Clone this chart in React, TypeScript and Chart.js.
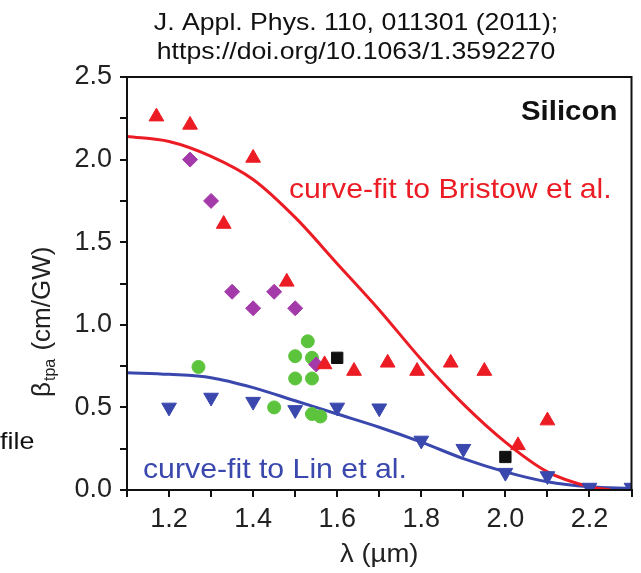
import React, { useEffect, useRef } from "react";
import { Chart, registerables } from "chart.js";

Chart.register(...registerables);

// Curve fits
const bristowFitX = [1.1, 1.2, 1.3, 1.4, 1.5, 1.6, 1.7, 1.8, 1.9, 2.0, 2.1, 2.2, 2.25];
const bristowFitY = [2.14, 2.11, 2.02, 1.88, 1.65, 1.37, 1.09, 0.79, 0.52, 0.29, 0.11, 0.02, 0.0];
const linFitX = [1.1, 1.2, 1.3, 1.4, 1.5, 1.6, 1.7, 1.8, 1.9, 2.0, 2.1, 2.2, 2.3];
const linFitY = [0.71, 0.70, 0.68, 0.62, 0.54, 0.46, 0.38, 0.29, 0.19, 0.11, 0.05, 0.02, 0.01];

// Measured points
const redTriX = [1.17, 1.25, 1.40, 1.33, 1.48, 1.57, 1.64, 1.72, 1.79, 1.87, 1.95, 2.03, 2.10];
const redTriY = [2.26, 2.21, 2.01, 1.61, 1.26, 0.76, 0.72, 0.77, 0.72, 0.77, 0.72, 0.27, 0.42];
const purpleX = [1.25, 1.30, 1.35, 1.40, 1.45, 1.50, 1.55];
const purpleY = [2.0, 1.75, 1.20, 1.10, 1.20, 1.10, 0.76];
const greenX = [1.27, 1.45, 1.50, 1.50, 1.53, 1.54, 1.54, 1.54, 1.56];
const greenY = [0.745, 0.50, 0.81, 0.675, 0.90, 0.80, 0.675, 0.46, 0.445];
const blueTriX = [1.20, 1.30, 1.40, 1.50, 1.60, 1.70, 1.80, 1.90, 2.00, 2.10, 2.20, 2.30];
const blueTriY = [0.50, 0.56, 0.535, 0.485, 0.50, 0.495, 0.30, 0.25, 0.105, 0.085, 0.015, 0.015];
const blackX = [1.60, 2.00];
const blackY = [0.80, 0.20];

const titleLines = ["J. Appl. Phys. 110, 011301 (2011);", "https://doi.org/10.1063/1.3592270"];
const xTitle = "λ (µm)";
const yTitleMain = "β";
const yTitleSub = "tpa";
const yTitleRest = " (cm/GW)";
const sampleLabel = "Silicon";
const bristowLabel = "curve-fit to Bristow et al.";
const linLabel = "curve-fit to Lin et al.";
const stray = "file";

const RED = "#ec1c24";
const BLUE = "#3a48ae";
const PURPLE = "#a43aaa";
const GREEN = "#5cc43c";
const FONT = "'Liberation Sans', Arial, sans-serif";

const zip = (xs: number[], ys: number[]) => xs.map((x, i) => ({ x, y: ys[i] }));

function txt(ctx: CanvasRenderingContext2D, s: string, x: number, y: number, font: string, color: string, align: CanvasTextAlign, sx = 1) {
  ctx.save();
  ctx.translate(x, y);
  ctx.scale(sx, 1);
  ctx.font = font;
  ctx.fillStyle = color;
  ctx.textAlign = align;
  ctx.textBaseline = "alphabetic";
  ctx.fillText(s, 0, 0);
  ctx.restore();
}

const annotations = {
  id: "annotations",
  afterDraw(chart: any) {
    const ctx = chart.ctx as CanvasRenderingContext2D;
    const a = chart.chartArea;
    ctx.save();
    // frame
    ctx.strokeStyle = "#111";
    ctx.lineWidth = 2;
    ctx.strokeRect(a.left, a.top, a.right - a.left, a.bottom - a.top);
    // title
    txt(ctx, titleLines[0], 356, 30, `24px ${FONT}`, "#111", "center", 1.11);
    txt(ctx, titleLines[1], 356, 59, `24px ${FONT}`, "#111", "center", 1.11);
    // x title
    txt(ctx, xTitle, (a.left + a.right) / 2, 562, `25px ${FONT}`, "#222", "center", 1.1);
    // stray text
    txt(ctx, stray, 0, 449, `24px ${FONT}`, "#111", "left", 1.12);
    // sample + fits labels
    txt(ctx, sampleLabel, 521, 120, `bold 28px ${FONT}`, "#111", "left", 1.05);
    txt(ctx, bristowLabel, 289, 198, `28px ${FONT}`, RED, "left", 1.08);
    txt(ctx, linLabel, 143, 478, `28px ${FONT}`, BLUE, "left", 1.08);
    // y title with subscript (rotated)
    ctx.save();
    ctx.translate(50, 397);
    ctx.rotate(-Math.PI / 2);
    ctx.fillStyle = "#222";
    ctx.textAlign = "left";
    ctx.textBaseline = "alphabetic";
    ctx.font = `26px ${FONT}`;
    ctx.fillText(yTitleMain, 0, 0);
    const w1 = ctx.measureText(yTitleMain).width;
    ctx.font = `16px ${FONT}`;
    ctx.fillText(yTitleSub, w1 + 1, 5);
    const w2 = ctx.measureText(yTitleSub).width;
    ctx.font = `26px ${FONT}`;
    ctx.fillText(yTitleRest, w1 + w2 + 2, 0);
    ctx.restore();
    ctx.restore();
  },
};

export default function App() {
  const ref = useRef<HTMLCanvasElement>(null);
  useEffect(() => {
    if (!ref.current) return;
    const markerBase = { showLine: false, order: 0, pointBorderWidth: 1 };
    const chart = new Chart(ref.current, {
      type: "scatter",
      data: {
        datasets: [
          {
            label: "Bristow fit",
            data: zip(bristowFitX, bristowFitY),
            showLine: true,
            borderColor: RED,
            borderWidth: 3,
            pointRadius: 0,
            cubicInterpolationMode: "monotone",
            order: 10,
          } as any,
          {
            label: "Lin fit",
            data: zip(linFitX, linFitY),
            showLine: true,
            borderColor: BLUE,
            borderWidth: 3,
            pointRadius: 0,
            cubicInterpolationMode: "monotone",
            order: 10,
          } as any,
          {
            ...markerBase,
            label: "red",
            data: zip(redTriX, redTriY),
            pointStyle: "triangle",
            pointRadius: 8.5,
            backgroundColor: RED,
            borderColor: RED,
          },
          {
            ...markerBase,
            label: "purple",
            data: zip(purpleX, purpleY),
            pointStyle: "rectRot",
            pointRadius: 7.5,
            backgroundColor: PURPLE,
            borderColor: PURPLE,
          },
          {
            ...markerBase,
            label: "green",
            data: zip(greenX, greenY),
            pointStyle: "circle",
            pointRadius: 6.5,
            backgroundColor: GREEN,
            borderColor: GREEN,
          },
          {
            ...markerBase,
            label: "blue",
            data: zip(blueTriX, blueTriY),
            pointStyle: "triangle",
            rotation: 180,
            pointRotation: 180,
            pointRadius: 8.5,
            backgroundColor: BLUE,
            borderColor: BLUE,
          } as any,
          {
            ...markerBase,
            label: "black",
            data: zip(blackX, blackY),
            pointStyle: "rect",
            pointRadius: 8,
            backgroundColor: "#111",
            borderColor: "#111",
          },
        ],
      },
      options: {
        animation: false,
        responsive: false,
        layout: { padding: { top: 77, right: 3, left: 0, bottom: 0 } },
        plugins: { legend: { display: false }, tooltip: { enabled: false }, title: { display: false } },
        scales: {
          x: {
            type: "linear",
            min: 1.1,
            max: 2.3,
            afterFit: (s: any) => { s.height = 83; s.paddingLeft = 0; s.paddingRight = 0; },
            border: { display: true, color: "#111", width: 2 },
            grid: { display: true, drawOnChartArea: false, drawTicks: true, tickLength: 7, color: "#111", lineWidth: 2 },
            ticks: {
              stepSize: 0.1,
              autoSkip: false,
              maxRotation: 0,
              padding: 6,
              color: "#222",
              font: { size: 27, family: FONT },
              callback: (v: any) => (Math.round(Number(v) * 10) % 2 === 0 ? Number(v).toFixed(1) : ""),
            },
          },
          y: {
            type: "linear",
            min: 0,
            max: 2.5,
            afterFit: (s: any) => { s.width = 127; s.paddingTop = 0; s.paddingBottom = 0; },
            border: { display: true, color: "#111", width: 2 },
            grid: { display: true, drawOnChartArea: false, drawTicks: true, tickLength: 7, color: "#111", lineWidth: 2 },
            ticks: {
              stepSize: 0.25,
              autoSkip: false,
              padding: 8,
              color: "#222",
              font: { size: 27, family: FONT },
              callback: (v: any) => (Math.round(Number(v) * 4) % 2 === 0 ? Number(v).toFixed(1) : ""),
            },
          },
        },
      },
      plugins: [annotations],
    });
    return () => chart.destroy();
  }, []);
  return (
    <div style={{ position: "absolute", left: 0, top: 0, width: 641, height: 573, background: "#fff" }}>
      <canvas ref={ref} width={641} height={573} style={{ display: "block", width: 641, height: 573 }} />
    </div>
  );
}
